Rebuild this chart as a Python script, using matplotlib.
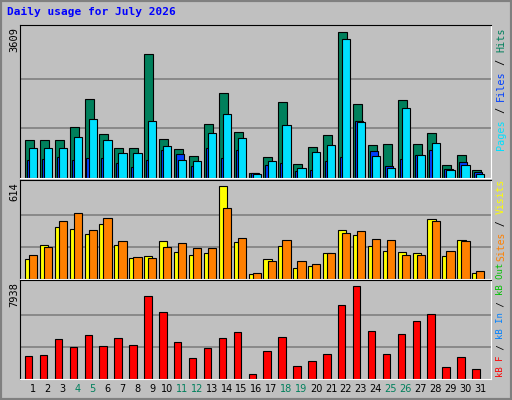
import matplotlib.pyplot as plt
import numpy as np

days = np.arange(1, 32)
weekends = [4, 5, 11, 12, 18, 19, 25, 26]
hits = [922, 922, 922, 1235, 1909, 1067, 730, 730, 3016, 946, 706, 537, 1307, 2077, 1115, 128,
        513, 1837, 345, 754, 1043, 3545, 1788, 802, 826, 1885, 826, 1091, 321, 561, 200]
files = [730, 730, 730, 995, 1428, 922, 610, 610, 1379, 778, 441, 417, 1091, 1548, 970, 104,
         417, 1283, 249, 634, 802, 3376, 1355, 537, 249, 1692, 561, 850, 200, 321, 104]
pages = [441, 465, 513, 441, 489, 489, 369, 273, 441, 682, 585, 297, 730, 489, 682, 120,
         321, 369, 176, 200, 417, 513, 1379, 658, 297, 465, 561, 682, 225, 393, 152]
visits = [125, 215, 332, 319, 286, 351, 215, 131, 144, 241, 170, 151, 164, 597, 235, 34,
          125, 209, 73, 80, 164, 312, 280, 209, 177, 170, 164, 383, 144, 248, 41]
sites = [151, 202, 370, 422, 312, 390, 241, 138, 131, 202, 228, 196, 196, 454, 261, 41,
         118, 248, 118, 99, 164, 293, 306, 254, 248, 151, 151, 370, 177, 241, 54]
kbytes = [1886, 1970, 3322, 2646, 3660, 2731, 3406, 2815, 6869, 5517, 3068, 1717, 2562, 3406,
          3913, 450, 2308, 3491, 1042, 1464, 2055, 6109, 7713, 3997, 2055, 3744, 4757, 5349,
          957, 1802, 788]

W, H = 512, 400
BG = "#C0C0C0"
fig = plt.figure(figsize=(W / 100, H / 100), dpi=100, facecolor=BG)
mono = "DejaVu Sans Mono"


def px_axes(x0, y0, x1, y1):
    ax = fig.add_axes([x0 / W, 1 - y1 / H, (x1 - x0) / W, (y1 - y0) / H])
    ax.set_facecolor(BG)
    ax.set_xlim(0.14, 31.73)
    ax.set_xticks([])
    ax.set_yticks([])
    for s in ["top", "left"]:
        ax.spines[s].set_color("black")
    for s in ["bottom", "right"]:
        ax.spines[s].set_color("white")
    return ax


def panel(ax, vmax, series):
    ax.set_ylim(0, vmax * 1.03)
    for f in (1 / 3, 2 / 3):
        ax.axhline(vmax * f, color="#808080", lw=1.2, zorder=0)
    for vals, off, w, col in series:
        ax.bar(days + off, vals, width=w, align="edge", color=col,
               edgecolor="black", linewidth=0.8, zorder=2)


def side_label(y_bottom, parts, size=7.3):
    cw = size * 100 / 72 * 0.602
    y = y_bottom
    for txt, col in parts:
        fig.text(496 / W, 1 - y / H, txt, color=col, rotation=90, ha="left",
                 va="bottom", family=mono, fontsize=size)
        y -= cw * len(txt)


# outer bevel
fig.patches.append(plt.Rectangle((0, 0), 1, 1, transform=fig.transFigure,
                                 fill=False, edgecolor="#808080", lw=3))
fig.text(7 / W, 1 - 15 / H, "Daily usage for July 2026", color="#0000FF",
         family=mono, fontweight="bold", fontsize=8)

ax1 = px_axes(20, 25, 491, 178)
panel(ax1, 3609, [(hits, -0.53, 0.6, "#00805C"), (pages, -0.4, 0.55, "#0040FF"),
                  (files, -0.26, 0.55, "#00E0FF")])
ax2 = px_axes(20, 180, 491, 279)
panel(ax2, 614, [(visits, -0.53, 0.55, "#FFFF00"), (sites, -0.26, 0.55, "#FF8000")])
ax3 = px_axes(20, 280, 491, 379)
panel(ax3, 7938, [(kbytes, -0.53, 0.5, "#FF0000")])

for y, t in [(27, "3609"), (182, "614"), (282, "7938")]:
    fig.text(9 / W, 1 - y / H, t, rotation=90, ha="left", va="top",
             family=mono, fontsize=7.5)

side_label(150, [("Pages", "#00E0FF"), (" / ", "black"), ("Files", "#0040FF"),
                 (" / ", "black"), ("Hits", "#00805C")])
side_label(261, [("Sites", "#FF8000"), (" / ", "black"), ("Visits", "#FFFF00")], size=7.0)
side_label(377, [("kB F", "#FF0000"), (" / ", "black"), ("kB In", "#0080FF"),
                 (" / ", "black"), ("kB Out", "#00C000")], size=6.5)

for d in days:
    x = 20 + (d - 0.14) / (31.73 - 0.14) * 471
    col = "#00805C" if d in weekends else "black"
    fig.text(x / W, 1 - 389 / H, str(d), color=col, ha="center", va="center",
             family="DejaVu Sans", fontsize=7)

fig.savefig("out.png", dpi=100, facecolor=BG)
